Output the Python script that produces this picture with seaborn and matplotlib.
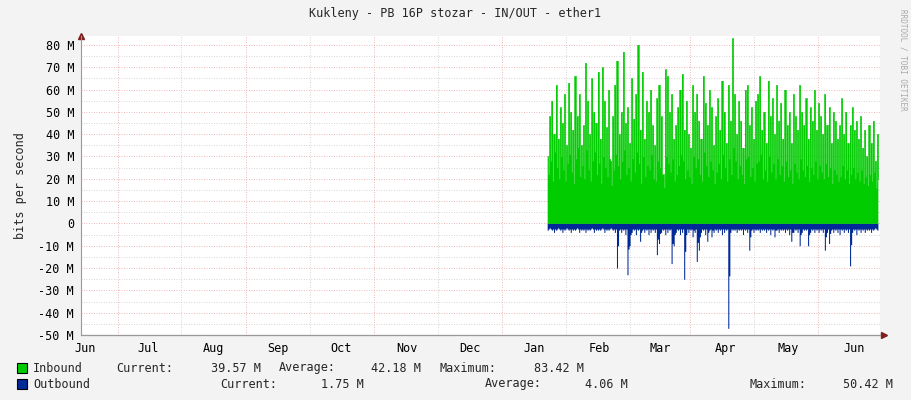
import numpy as np
import pandas as pd
import matplotlib
matplotlib.use("Agg")
import matplotlib.pyplot as plt
import seaborn as sns

sns.set_style("white")
plt.rcParams['font.family'] = ['DejaVu Sans Mono']

# chart data (M bits per second), one peak + one low sample per day
start = pd.Timestamp("2023-05-30")
first_day = 222
inbound_peak = [
    30, 48, 55, 40, 62, 38, 52, 45, 58, 35,
    63, 50, 42, 66, 48, 58, 35, 44, 72, 55,
    40, 65, 50, 45, 68, 38, 70, 55, 43, 60,
    28, 48, 62, 73, 40, 50, 77, 45, 52, 36,
    65, 47, 58, 80, 42, 68, 38, 55, 50, 60,
    44, 35, 56, 62, 48, 22, 69, 66, 50, 58,
    38, 44, 52, 60, 67, 42, 55, 40, 34, 62,
    50, 58, 46, 38, 66, 54, 44, 60, 52, 35,
    48, 56, 42, 64, 50, 36, 62, 46, 83, 58,
    40, 55, 46, 34, 60, 62, 44, 52, 38, 55,
    58, 66, 42, 50, 36, 64, 48, 56, 40, 62,
    46, 54, 38, 60, 44, 50, 36, 58, 48, 42,
    62, 50, 44, 56, 38, 52, 46, 60, 42, 54,
    48, 40, 58, 44, 52, 36, 50, 46, 38, 44,
    56, 40, 50, 36, 44, 52, 42, 46, 38, 48,
    34, 42, 30, 44, 36, 46, 28, 40,
]
inbound_low = [
    22, 28, 19, 32, 25, 20, 30, 24, 19, 27,
    31, 23, 18, 29, 34, 21, 26, 20, 33, 24,
    19, 28, 32, 22, 27, 18, 30, 25, 21, 29,
    17, 24, 31, 26, 20, 28, 33, 22, 25, 19,
    29, 23, 32, 27, 18, 30, 21, 26, 24, 31,
    20, 19, 28, 25, 22, 16, 30, 27, 23, 29,
    19, 22, 26, 31, 28, 20, 24, 21, 18, 30,
    25, 29, 22, 19, 32, 26, 21, 28, 24, 18,
    23, 27, 20, 31, 25, 19, 29, 22, 34, 28,
    20, 26, 22, 18, 29, 30, 21, 25, 19, 27,
    28, 31, 20, 24, 19, 30, 23, 27, 20, 29,
    22, 26, 19, 28, 21, 24, 18, 27, 23, 20,
    29, 24, 21, 26, 19, 25, 22, 28, 20, 26,
    23, 20, 27, 21, 25, 18, 24, 22, 19, 21,
    26, 20, 24, 18, 22, 25, 20, 23, 19, 24,
    18, 21, 17, 22, 19, 23, 16, 20,
]
outbound = [
    3, 2, 3, 4, 3, 2, 3, 4, 3, 2,
    3, 4, 3, 3, 2, 4, 3, 3, 4, 3,
    3, 2, 4, 3, 3, 3, 2, 4, 3, 3,
    2, 3, 4, 20, 3, 4, 3, 5, 23, 10,
    4, 3, 5, 3, 8, 3, 4, 3, 5, 4,
    3, 4, 14, 9, 4, 3, 5, 4, 3, 18,
    10, 4, 3, 5, 4, 25, 5, 4, 3, 6,
    4, 17, 12, 4, 3, 5, 8, 3, 6, 4,
    3, 4, 3, 5, 4, 3, 47, 4, 3, 3,
    4, 3, 3, 5, 3, 4, 12, 3, 4, 3,
    3, 4, 3, 3, 4, 3, 5, 3, 6, 3,
    4, 3, 3, 4, 3, 5, 8, 4, 3, 4,
    10, 4, 3, 3, 10, 4, 3, 4, 3, 4,
    3, 4, 12, 4, 9, 3, 4, 3, 4, 5,
    3, 4, 3, 4, 19, 4, 3, 5, 3, 4,
    3, 4, 3, 3, 4, 3, 2, 3,
]
outbound_low = [max(v * 0.5, 2.5) for v in outbound]

month_labels = ["Jun", "Jul", "Aug", "Sep", "Oct", "Nov", "Dec",
                "Jan", "Feb", "Mar", "Apr", "May", "Jun"]
month_starts = pd.date_range("2023-06-01", periods=13, freq="MS")
major_days = [17.6, 78.6, 139.5, 200.5, 290, 351]
minor_days = [47.6, 109, 170, 231, 261.4, 320.5]

legend_rows = [
    ("Inbound", "#00cc00", [("Current:", 116, "39.57 M", 261), ("Average:", 279, "42.18 M", 421),
                             ("Maximum:", 440, "83.42 M", 584)]),
    ("Outbound", "#002a97", [("Current:", 220, "1.75 M", 364), ("Average:", 485, "4.06 M", 628),
                              ("Maximum:", 750, "50.42 M", 893)]),
]

# build frame
days = np.arange(first_day, first_day + len(inbound_peak))
df = pd.DataFrame({
    "x": np.ravel(np.column_stack([days, days + 0.5])),
    "inbound": np.ravel(np.column_stack([inbound_peak, inbound_low])),
    "outbound": -np.ravel(np.column_stack([outbound, outbound_low])),
})

W, H = 911, 400
fig = plt.figure(figsize=(W / 100, H / 100), dpi=100, facecolor="#f3f3f3")
ax = fig.add_axes([81 / W, 1 - 335 / H, 799 / W, 299 / H])
ax.set_facecolor("white")

ax.fill_between(df["x"], 0, df["inbound"], step="post", color="#00cc00", lw=0)
ax.fill_between(df["x"], 0, df["outbound"], step="post", color="#002a97", lw=0)
sns.lineplot(data=df, x="x", y="inbound", ax=ax, drawstyle="steps-post", color="#00cc00", lw=0.5)

for v in range(-50, 85, 5):
    c = "#e8a0a0" if v % 10 == 0 else "#c8c8c8"
    ax.axhline(v, color=c, lw=0.6, ls=(0, (1, 2)), zorder=0)
for d in major_days:
    ax.axvline(d, color="#e8a0a0", lw=0.6, ls=(0, (1, 2)), zorder=0)
for d in minor_days:
    ax.axvline(d, color="#c8c8c8", lw=0.6, ls=(0, (1, 2)), zorder=0)

ax.set_xlim(0, 380.5)
ax.set_ylim(-50, 84)
yt = list(range(-50, 81, 10))
ax.set_yticks(yt)
ax.set_yticklabels(["0" if v == 0 else f"{v} M" for v in yt], fontsize=8.5)
ax.set_xticks([(m - start).days for m in month_starts])
ax.set_xticklabels(month_labels, fontsize=8.5)
ax.tick_params(length=2, pad=3, colors="#000000")
ax.set_xlabel("")
ax.set_ylabel("bits per second", fontsize=8.5, labelpad=8)
for s in ["top", "right"]:
    ax.spines[s].set_visible(False)
ax.spines["left"].set_color("#999999")
ax.spines["bottom"].set_color("#999999")
ax.plot([0, 1.005], [0, 0], transform=ax.transAxes, color="#666666", lw=0.8, clip_on=False)
ax.plot(1.005, 0, ">", transform=ax.transAxes, color="#7f1f1f", ms=4, clip_on=False)
ax.plot(0, 1.0, "^", transform=ax.transAxes, color="#7f1f1f", ms=4, clip_on=False)

fig.text(455 / W, 1 - 13 / H, "Kukleny - PB 16P stozar - IN/OUT - ether1",
         ha="center", va="center", fontsize=8.5)
fig.text(903 / W, 1 - 60 / H, "RRDTOOL / TOBI OETIKER", rotation=270,
         ha="center", va="center", fontsize=5.5, color="#aaaaaa")

for i, (name, col, items) in enumerate(legend_rows):
    y = 1 - (368 + 16 * i) / H
    fig.patches.append(plt.Rectangle((17 / W, y - 5 / H), 10 / W, 10 / H, transform=fig.transFigure,
                                     facecolor=col, edgecolor="black", lw=0.8))
    fig.text(33 / W, y, name, va="center", fontsize=8.5)
    for lab, lx, val, vx in items:
        fig.text(lx / W, y, lab, va="center", fontsize=8.5)
        fig.text(vx / W, y, val, va="center", ha="right", fontsize=8.5)

fig.savefig("out.png", dpi=100, facecolor=fig.get_facecolor())
